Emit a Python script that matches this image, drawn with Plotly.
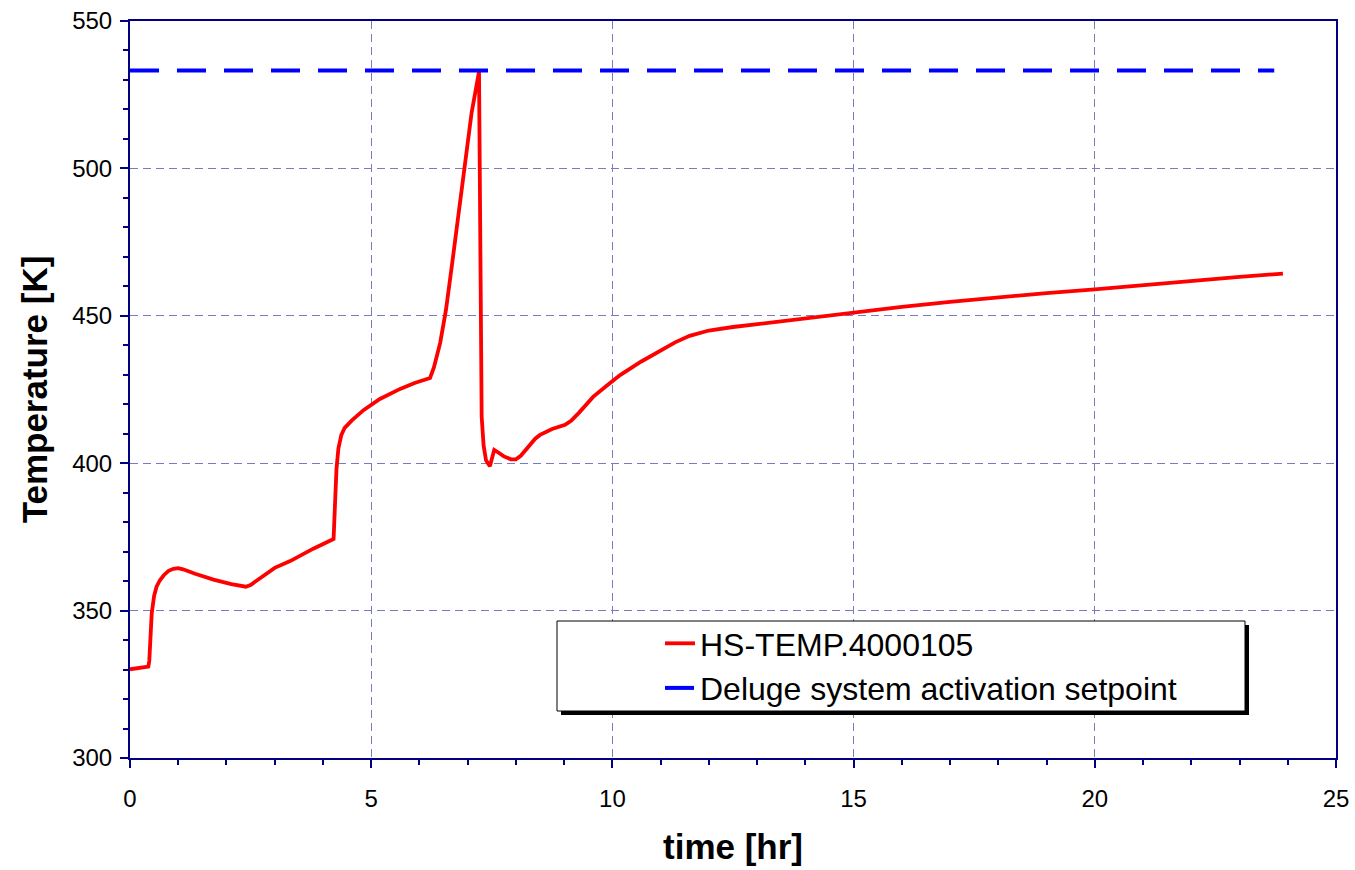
import plotly.graph_objects as go

# ---- data ----
time_hr = [0, 0.38, 0.40, 0.42, 0.45, 0.50, 0.55, 0.62, 0.70, 0.80, 0.90, 1.0, 1.1,
           1.35, 1.73, 2.1, 2.3, 2.4, 2.5, 2.65, 2.83, 3.0, 3.32, 3.8, 4.22, 4.25,
           4.28, 4.32, 4.38, 4.45, 4.6, 4.84, 5.18, 5.6, 5.9, 6.22, 6.3, 6.43, 6.55,
           6.67, 6.88, 7.08, 7.235, 7.255, 7.265, 7.29, 7.33, 7.38, 7.46, 7.50,
           7.55, 7.62, 7.75, 7.9, 8.0, 8.1, 8.25, 8.4, 8.5, 8.75, 9.02, 9.15, 9.3,
           9.6, 9.9, 10.16, 10.6, 11.0, 11.3, 11.6, 11.8, 12.0, 12.5, 13.0, 14.0,
           15.0, 16.0, 17.0, 18.0, 19.0, 20.0, 21.0, 22.0, 23.0, 23.9]
temp_K = [330.1, 331.0, 333.0, 340.0, 349.0, 355.0, 358.1, 360.3, 362.0, 363.5,
          364.2, 364.4, 364.0, 362.5, 360.5, 359.0, 358.2, 358.1, 358.7, 360.5,
          362.8, 364.5, 366.8, 371.0, 374.3, 385.0, 398.0, 405.0, 409.5, 412.0,
          414.5, 418.0, 421.8, 425.2, 427.2, 428.9, 432.5, 440.8, 452.0, 466.7,
          492.7, 518.7, 532.8, 470.0, 434.0, 415.8, 406.0, 401.0, 399.0, 402.0,
          404.5, 403.8, 402.3, 401.3, 401.3, 402.5, 405.5, 408.3, 409.6, 411.6,
          413.0, 414.5, 417.0, 422.5, 426.5, 429.9, 434.5, 438.3, 441.0, 443.2,
          444.2, 445.0, 446.2, 447.2, 449.0, 450.9, 453.0, 454.7, 456.3, 457.7,
          459.0, 460.5, 461.9, 463.2, 464.3]
setpoint_time = [0, 23.72]
setpoint_temp = [533.2, 533.2]

series_names = ["HS-TEMP.4000105", "Deluge system activation setpoint"]
x_ticks = [0, 5, 10, 15, 20, 25]
y_ticks = [300, 350, 400, 450, 500, 550]

NAVY = "#000080"
GRID = "#7a7abf"
FONT = "Arial, Liberation Sans, sans-serif"

fig = go.Figure()
fig.add_trace(go.Scatter(x=time_hr, y=temp_K, mode="lines", name=series_names[0],
                         legendgroup="a",
                         line=dict(color="#ff0000", width=3.8)))
fig.add_trace(go.Scatter(x=setpoint_time, y=setpoint_temp, mode="lines", name=series_names[1],
                         legendgroup="b",
                         line=dict(color="#0000ff", width=4, dash="29px,18px")))

axis_common = dict(
    showline=True, linecolor=NAVY, linewidth=2, mirror=True,
    ticks="outside", ticklen=8, tickcolor=NAVY, tickwidth=1.5,
    showgrid=True, gridcolor=GRID, gridwidth=1, griddash="8px,5px",
    zeroline=False, automargin=False,
    tickfont=dict(family=FONT, size=24, color="black"),
)

fig.update_xaxes(range=[0, 25], tickvals=x_ticks, **axis_common,
                 minor=dict(dtick=1, ticks="outside", ticklen=5, tickcolor=NAVY, showgrid=False),
                 title=dict(text="<b>time [hr]</b>", font=dict(family=FONT, size=35, color="black"),
                            standoff=24),
                 ticklabelstandoff=10)
fig.update_yaxes(range=[300, 550], tickvals=y_ticks, **axis_common,
                 minor=dict(dtick=10, ticks="outside", ticklen=5, tickcolor=NAVY, showgrid=False),
                 title=dict(text="<b>Temperature [K]</b>", font=dict(family=FONT, size=35, color="black"),
                            standoff=14),
                 ticklabelstandoff=3)

# legend box with shadow (pixel -> paper conversion)
L, R, T, B = 130, 1336, 21, 758
def px(x):
    return (x - L) / (R - L)
def py(y):
    return (B - y) / (B - T)

fig.add_shape(type="rect", xref="paper", yref="paper", layer="above",
              x0=px(561), x1=px(1249), y0=py(715), y1=py(625),
              fillcolor="black", line=dict(width=0))
fig.add_shape(type="rect", xref="paper", yref="paper", layer="above",
              x0=px(557), x1=px(1245), y0=py(711), y1=py(621),
              fillcolor="white", line=dict(color="black", width=1))

fig.update_layout(
    width=1355, height=870,
    margin=dict(l=130, r=19, t=21, b=112),
    paper_bgcolor="white", plot_bgcolor="white",
    font=dict(family=FONT, color="black"),
    showlegend=True,
    legend=dict(x=px(660), y=py(616), xanchor="left", yanchor="top",
                bgcolor="rgba(0,0,0,0)", borderwidth=0,
                font=dict(family=FONT, size=32, color="black"),
                tracegroupgap=0, itemwidth=30),
)

fig.write_html("out.html")
